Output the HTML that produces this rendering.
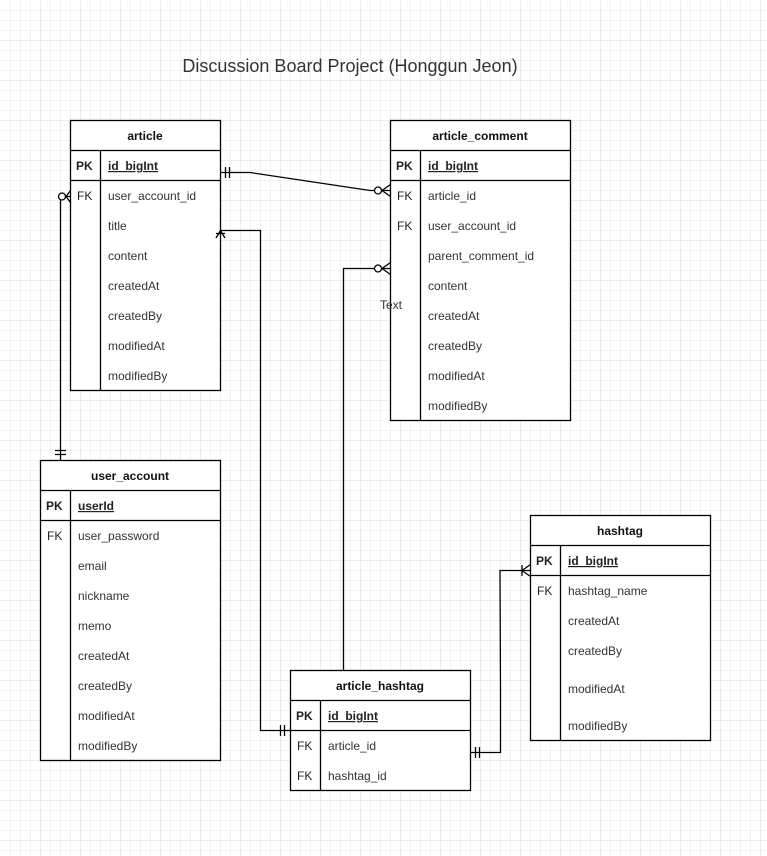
<!DOCTYPE html>
<html><head><meta charset="utf-8"><style>
html,body{margin:0;padding:0;background:#fff;}
svg{display:block;font-family:"Liberation Sans",Arial,sans-serif;}
.t{font-size:12px;fill:#333;}
.h{font-size:12px;font-weight:bold;fill:#111;text-anchor:middle;}
.k{font-size:12px;fill:#222;}
.pk{font-size:12px;font-weight:bold;fill:#222;}
</style></head><body>
<svg width="767" height="856" viewBox="0 0 767 856">
<defs>
<pattern id="g" width="10" height="10" patternUnits="userSpaceOnUse">
<path d="M10 0V10M0 10H10" stroke="#e4e4e4" stroke-width="1" fill="none"/>
</pattern>
<pattern id="g2" width="40" height="40" patternUnits="userSpaceOnUse">
<path d="M40 0V40M0 40H40" stroke="#d8d8d8" stroke-width="1" fill="none"/>
</pattern>
</defs>
<rect width="767" height="856" fill="url(#g)" transform="translate(0.5,0.5)"/>
<rect width="767" height="856" fill="url(#g2)" transform="translate(0.5,0.5)"/>

<text x="350" y="72" style="font-size:18px;fill:#333" text-anchor="middle">Discussion Board Project (Honggun Jeon)</text>

<g stroke="#000" stroke-width="1.3" fill="none">
<!-- article -->
<rect x="70.5" y="120.5" width="150" height="270" fill="#fff"/>
<path d="M70.5 150.5H220.5M70.5 180.5H220.5M100.5 150.5V390.5"/>
<!-- article_comment -->
<rect x="390.5" y="120.5" width="180" height="300" fill="#fff"/>
<path d="M390.5 150.5H570.5M390.5 180.5H570.5M420.5 150.5V420.5"/>
<!-- user_account -->
<rect x="40.5" y="460.5" width="180" height="300" fill="#fff"/>
<path d="M40.5 490.5H220.5M40.5 520.5H220.5M70.5 490.5V760.5"/>
<!-- article_hashtag -->
<rect x="290.5" y="670.5" width="180" height="120" fill="#fff"/>
<path d="M290.5 700.5H470.5M290.5 730.5H470.5M320.5 700.5V790.5"/>
<!-- hashtag -->
<rect x="530.5" y="515.5" width="180" height="225" fill="#fff"/>
<path d="M530.5 545.5H710.5M530.5 575.5H710.5M560.5 545.5V740.5"/>

<!-- connectors -->
<path d="M220.5 172.5H250L370 190.5H390.5"/>
<path d="M225.5 167V178M229.5 167V178"/>
<circle cx="378" cy="190.5" r="3.5" fill="#fff"/>
<path d="M390.5 184.5L382 190.5L390.5 196.5"/>

<path d="M70.5 196.5H60.5V460.5"/>
<circle cx="62" cy="196.5" r="3.5" fill="#fff"/>
<path d="M70.5 190.5L66 196.5L70.5 202.5"/>
<path d="M55 450.5H66M55 454.5H66"/>

<path d="M390.5 268.5H343.5V670.5"/>
<circle cx="378" cy="268.5" r="3.5" fill="#fff"/>
<path d="M390.5 262.5L382 268.5L390.5 274.5"/>

<path d="M220.5 230.5H260.5V730.5H290.5"/>
<path d="M216 238L220.5 230.5L225 238M216 233.5H225"/>
<path d="M280.5 725V736M284.5 725V736"/>

<path d="M470.5 752.5H500.5V690L500 570.5H530.5"/>
<path d="M475.5 747V758M479.5 747V758"/>
<path d="M522 565V576M530.5 564.5L522 570.5L530.5 576.5"/>
</g>

<text x="380" y="309" class="t">Text</text>

<!-- article text -->
<text x="145" y="140" class="h">article</text>
<text x="76" y="170" class="pk">PK</text><text x="108" y="170" class="pk" text-decoration="underline">id_bigInt</text>
<text x="77" y="200" class="k">FK</text><text x="108" y="200" class="t">user_account_id</text>
<text x="108" y="230" class="t">title</text>
<text x="108" y="260" class="t">content</text>
<text x="108" y="290" class="t">createdAt</text>
<text x="108" y="320" class="t">createdBy</text>
<text x="108" y="350" class="t">modifiedAt</text>
<text x="108" y="380" class="t">modifiedBy</text>

<!-- article_comment -->
<text x="480" y="140" class="h">article_comment</text>
<text x="396" y="170" class="pk">PK</text><text x="428" y="170" class="pk" text-decoration="underline">id_bigInt</text>
<text x="397" y="200" class="k">FK</text><text x="428" y="200" class="t">article_id</text>
<text x="397" y="230" class="k">FK</text><text x="428" y="230" class="t">user_account_id</text>
<text x="428" y="260" class="t">parent_comment_id</text>
<text x="428" y="290" class="t">content</text>
<text x="428" y="320" class="t">createdAt</text>
<text x="428" y="350" class="t">createdBy</text>
<text x="428" y="380" class="t">modifiedAt</text>
<text x="428" y="410" class="t">modifiedBy</text>

<!-- user_account -->
<text x="130" y="480" class="h">user_account</text>
<text x="46" y="510" class="pk">PK</text><text x="78" y="510" class="pk" text-decoration="underline">userId</text>
<text x="47" y="540" class="k">FK</text><text x="78" y="540" class="t">user_password</text>
<text x="78" y="570" class="t">email</text>
<text x="78" y="600" class="t">nickname</text>
<text x="78" y="630" class="t">memo</text>
<text x="78" y="660" class="t">createdAt</text>
<text x="78" y="690" class="t">createdBy</text>
<text x="78" y="720" class="t">modifiedAt</text>
<text x="78" y="750" class="t">modifiedBy</text>

<!-- article_hashtag -->
<text x="380" y="690" class="h">article_hashtag</text>
<text x="296" y="720" class="pk">PK</text><text x="328" y="720" class="pk" text-decoration="underline">id_bigInt</text>
<text x="297" y="750" class="k">FK</text><text x="328" y="750" class="t">article_id</text>
<text x="297" y="780" class="k">FK</text><text x="328" y="780" class="t">hashtag_id</text>

<!-- hashtag -->
<text x="620" y="535" class="h">hashtag</text>
<text x="536" y="565" class="pk">PK</text><text x="568" y="565" class="pk" text-decoration="underline">id_bigInt</text>
<text x="537" y="595" class="k">FK</text><text x="568" y="595" class="t">hashtag_name</text>
<text x="568" y="625" class="t">createdAt</text>
<text x="568" y="655" class="t">createdBy</text>
<text x="568" y="693" class="t">modifiedAt</text>
<text x="568" y="730" class="t">modifiedBy</text>
</svg>
</body></html>
